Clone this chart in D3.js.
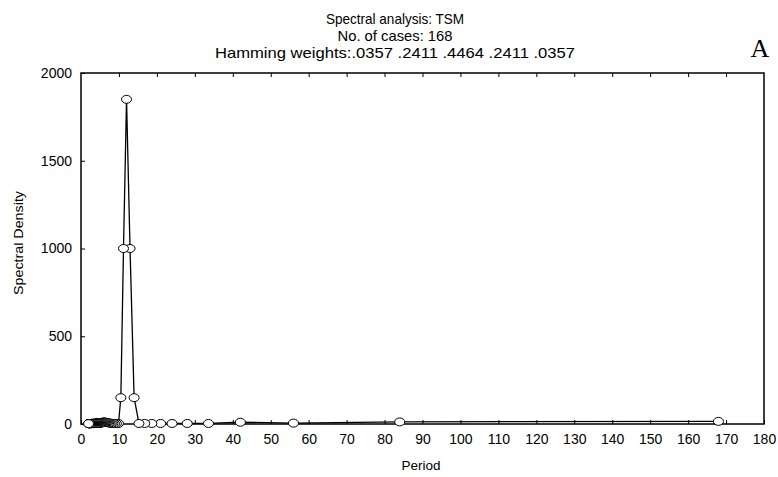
<!DOCTYPE html>
<html>
<head>
<meta charset="utf-8">
<script src="https://cdn.jsdelivr.net/npm/d3@7"></script>
<style>
  body { margin: 0; background: #fff; }
  svg text { font-family: "Liberation Sans", Arial, sans-serif; fill: #000; }
</style>
</head>
<body>
<svg id="chart" width="778" height="477"></svg>
<script>
"use strict";

// periods of the Fourier frequencies (168 / k, k = 1..84)
var periods = [168, 84, 56, 42, 33.6, 28, 24, 21, 18.67, 16.8, 15.27, 14, 12.92, 12,
  11.2, 10.5, 9.88, 9.33, 8.84, 8.4, 8, 7.64, 7.3, 7, 6.72, 6.46, 6.22, 6, 5.79, 5.6,
  5.42, 5.25, 5.09, 4.94, 4.8, 4.67, 4.54, 4.42, 4.31, 4.2, 4.1, 4, 3.91, 3.82, 3.73,
  3.65, 3.57, 3.5, 3.43, 3.36, 3.29, 3.23, 3.17, 3.11, 3.05, 3, 2.95, 2.9, 2.85, 2.8,
  2.75, 2.71, 2.67, 2.63, 2.58, 2.55, 2.51, 2.47, 2.43, 2.4, 2.37, 2.33, 2.3, 2.27,
  2.24, 2.21, 2.18, 2.15, 2.13, 2.1, 2.07, 2.05, 2.02, 2];

var density = [15, 12, 5, 10, 3, 3, 3, 3, 3, 3, 3, 150, 1000, 1850, 1000, 150, 3, 2,
  2, 3, 4, 5, 6, 8, 9, 10, 11, 12, 10, 8, 6, 5, 4, 4, 5, 6, 7, 8, 7, 6, 5, 4, 3, 3, 3,
  4, 5, 5, 4, 3, 3, 2, 2, 3, 3, 4, 4, 3, 3, 2, 2, 2, 3, 3, 3, 2, 2, 2, 2, 3, 3, 2, 2,
  2, 2, 2, 2, 2, 2, 2, 2, 2, 2, 2];

var titleLines = ["Spectral analysis: TSM", "No. of cases: 168",
  "Hamming weights:.0357 .2411 .4464 .2411 .0357"];
var titleWidths = [138, 115, 360];
var xTicks = d3.range(0, 181, 10);
var yTicks = [0, 500, 1000, 1500, 2000];

var svg = d3.select("#chart");
var plotLeft = 81, plotRight = 764, plotTop = 73, plotBottom = 424;

var x = d3.scaleLinear().domain([0, 180]).range([plotLeft, plotRight]);
var y = d3.scaleLinear().domain([0, 2000]).range([plotBottom, plotTop]);

// titles
svg.selectAll(".title").data(titleLines)
  .enter().append("text")
  .attr("class", "title")
  .attr("x", 395)
  .attr("y", function(d, i) { return 24 + i * 17; })
  .attr("text-anchor", "middle")
  .attr("textLength", function(d, i) { return titleWidths[i]; })
  .attr("lengthAdjust", "spacingAndGlyphs")
  .style("font-size", "14.5px")
  .text(function(d) { return d; });

svg.append("text")
  .attr("x", 760).attr("y", 57)
  .attr("text-anchor", "middle")
  .style("font-family", "'Liberation Serif', 'Times New Roman', serif")
  .style("font-size", "26px")
  .text("A");

// axes with inward ticks
svg.append("g")
  .attr("transform", "translate(0," + plotBottom + ")")
  .call(d3.axisBottom(x).tickValues(xTicks).tickSize(-4).tickPadding(10).tickSizeOuter(0))
  .call(function(g) {
    g.select(".domain").remove();
    g.selectAll("text").style("font-size", "14px").attr("dy", "0.71em");
  });

svg.append("g")
  .attr("transform", "translate(0," + plotTop + ")")
  .call(d3.axisTop(x).tickValues(xTicks.slice(1, -1)).tickSize(-4).tickFormat("").tickSizeOuter(0))
  .call(function(g) { g.select(".domain").remove(); });

svg.append("g")
  .attr("transform", "translate(" + plotLeft + ",0)")
  .call(d3.axisLeft(y).tickValues(yTicks).tickFormat(d3.format("d")).tickSize(-4).tickPadding(9).tickSizeOuter(0))
  .call(function(g) {
    g.select(".domain").remove();
    g.selectAll("text").style("font-size", "14px");
  });

// frame
svg.append("rect")
  .attr("x", plotLeft).attr("y", plotTop)
  .attr("width", plotRight - plotLeft).attr("height", plotBottom - plotTop)
  .attr("fill", "none").attr("stroke", "#000").attr("stroke-width", 1.5);

svg.append("text")
  .attr("x", 421).attr("y", 470)
  .attr("text-anchor", "middle")
  .style("font-size", "13.5px")
  .text("Period");

svg.append("text")
  .attr("transform", "translate(23,243) rotate(-90)")
  .attr("text-anchor", "middle")
  .attr("textLength", 104)
  .attr("lengthAdjust", "spacingAndGlyphs")
  .style("font-size", "13px")
  .text("Spectral Density");

// series
var pts = periods.map(function(p, i) { return { p: p, v: density[i] }; });

svg.append("path")
  .datum(pts)
  .attr("fill", "none")
  .attr("stroke", "#000")
  .attr("stroke-width", 1.3)
  .attr("d", d3.line().x(function(d) { return x(d.p); }).y(function(d) { return y(d.v); }));

svg.selectAll(".pt").data(pts)
  .enter().append("ellipse")
  .attr("class", "pt")
  .attr("cx", function(d) { return x(d.p); })
  .attr("cy", function(d) { return y(d.v); })
  .attr("rx", 5).attr("ry", 4)
  .attr("fill", "#fff")
  .attr("stroke", "#000")
  .attr("stroke-width", 1);
</script>
</body>
</html>
